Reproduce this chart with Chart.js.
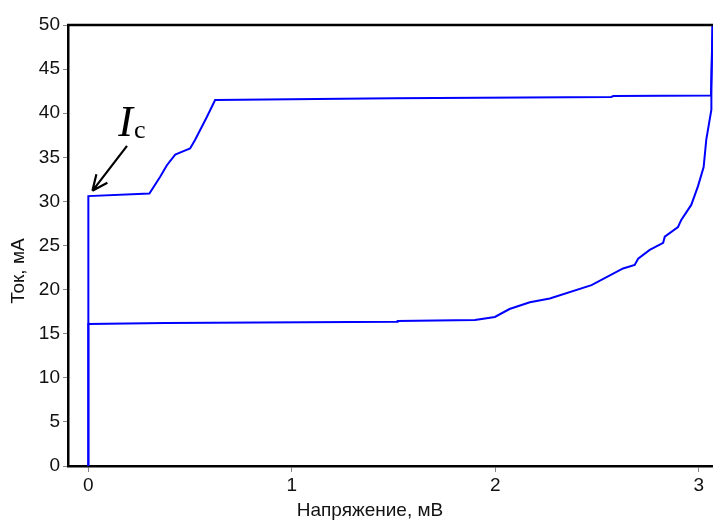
<!DOCTYPE html>
<html>
<head>
<meta charset="utf-8">
<script src="https://cdn.jsdelivr.net/npm/chart.js@4.4.0/dist/chart.umd.min.js"></script>
<style>
  html, body { margin: 0; padding: 0; background: #fff; }
  #wrap { width: 713px; height: 521px; }
</style>
</head>
<body>
<div id="wrap"><canvas id="ivc"></canvas></div>
<script>
// ВАХ: прямой ход (до переключения) и обратный ход
const upVoltage = [0, 0, 0.30, 0.353, 0.386, 0.427, 0.468, 0.50, 0.525, 0.583, 0.623, 1.50, 2.57, 2.58, 3.060, 3.068];
const upCurrent = [0, 30.6, 30.9, 32.8, 34.1, 35.3, 35.7, 36.0, 37.0, 39.6, 41.5, 41.7, 41.85, 41.95, 42.0, 50];

const downVoltage = [3.068, 3.062, 3.062, 3.037, 3.024, 2.996, 2.963, 2.914, 2.898, 2.833, 2.825, 2.759, 2.702, 2.685, 2.628, 2.473, 2.268, 2.170, 2.07, 1.998, 1.90, 1.52, 1.52, 0.38, 0, 0];
const downCurrent = [50, 43.0, 40.4, 37.0, 33.9, 31.7, 29.6, 27.9, 27.1, 26.0, 25.3, 24.5, 23.5, 22.8, 22.4, 20.5, 19.0, 18.56, 17.8, 16.9, 16.55, 16.45, 16.35, 16.2, 16.1, 0];

const xTicks = [0, 1, 2, 3];
const yTicks = [0, 5, 10, 15, 20, 25, 30, 35, 40, 45, 50];

const xTitle = "Напряжение, мВ";
const yTitle = "Ток, мА";

// подпись Ic со стрелкой (в координатах данных)
const icArrowFrom = [0.19, 36.3];
const icArrowTo = [0.02, 31.2];
const icLabelAt = [0.147, 37.4];

function toPoints(xs, ys) {
  let pts = [];
  for (let i = 0; i < xs.length; i++) pts.push({x: xs[i], y: ys[i]});
  return pts;
}

const framePlugin = {
  id: "frame",
  afterDraw(chart) {
    const ctx = chart.ctx;
    const a = chart.chartArea;
    const sx = chart.scales.x, sy = chart.scales.y;
    ctx.save();
    // верхняя рамка
    ctx.strokeStyle = "#000";
    ctx.lineWidth = 2.5;
    ctx.beginPath();
    ctx.moveTo(a.left - 1, a.top);
    ctx.lineTo(a.right, a.top);
    ctx.stroke();

    // стрелка к Ic
    const x1 = sx.getPixelForValue(icArrowFrom[0]), y1 = sy.getPixelForValue(icArrowFrom[1]);
    const x2 = sx.getPixelForValue(icArrowTo[0]), y2 = sy.getPixelForValue(icArrowTo[1]);
    const ang = Math.atan2(y2 - y1, x2 - x1);
    ctx.lineWidth = 2.2;
    ctx.beginPath();
    ctx.moveTo(x1, y1);
    ctx.lineTo(x2, y2);
    ctx.moveTo(x2, y2);
    ctx.lineTo(x2 - 17 * Math.cos(ang - 0.42), y2 - 17 * Math.sin(ang - 0.42));
    ctx.moveTo(x2, y2);
    ctx.lineTo(x2 - 17 * Math.cos(ang + 0.42), y2 - 17 * Math.sin(ang + 0.42));
    ctx.stroke();

    // подпись Ic
    const lx = sx.getPixelForValue(icLabelAt[0]), ly = sy.getPixelForValue(icLabelAt[1]);
    ctx.fillStyle = "#000";
    ctx.textBaseline = "alphabetic";
    ctx.textAlign = "left";
    ctx.font = "italic 44px 'Liberation Serif'";
    ctx.fillText("I", lx, ly);
    const w = ctx.measureText("I").width;
    ctx.font = "26px 'Liberation Serif'";
    ctx.fillText("c", lx + w + 1, ly + 2);

    // подписи осей
    ctx.font = "19px 'Liberation Sans'";
    ctx.textAlign = "center";
    ctx.textBaseline = "middle";
    ctx.fillStyle = "#111";
    ctx.fillText(xTitle, 370, 511);
    ctx.translate(19, 271);
    ctx.rotate(-Math.PI / 2);
    ctx.fillText(yTitle, 0, 0);
    ctx.restore();
  }
};

const ctx = document.getElementById("ivc").getContext("2d");
const chart = new Chart(ctx, {
  type: "scatter",
  data: {
    datasets: [
      {
        label: "прямой ход",
        data: toPoints(upVoltage, upCurrent),
        showLine: true,
        borderColor: "#0000ff",
        borderWidth: 2,
        pointRadius: 0,
        tension: 0
      },
      {
        label: "обратный ход",
        data: toPoints(downVoltage, downCurrent),
        showLine: true,
        borderColor: "#0000ff",
        borderWidth: 2,
        pointRadius: 0,
        tension: 0
      }
    ]
  },
  options: {
    responsive: true,
    maintainAspectRatio: false,
    animation: false,
    layout: { padding: { top: 25, right: 0, left: 0, bottom: 0 } },
    plugins: {
      legend: { display: false },
      tooltip: { enabled: false }
    },
    scales: {
      x: {
        type: "linear",
        min: -0.1,
        max: 3.07,
        afterBuildTicks: s => { s.ticks = xTicks.map(v => ({value: v})); },
        afterFit: s => { s.height = 55; },
        border: { color: "#000", width: 2.5 },
        grid: { drawOnChartArea: false, tickLength: 6, tickColor: "#888", tickWidth: 1 },
        ticks: {
          color: "#111",
          padding: 2,
          font: { family: "'Liberation Sans'", size: 19 }
        },
        title: { display: false }
      },
      y: {
        type: "linear",
        min: 0,
        max: 50,
        afterBuildTicks: s => { s.ticks = yTicks.map(v => ({value: v})); },
        afterFit: s => { s.width = 68; },
        border: { color: "#000", width: 2.5 },
        grid: { drawOnChartArea: false, tickLength: 5, tickColor: "#888", tickWidth: 1 },
        ticks: {
          color: "#111",
          padding: 3,
          font: { family: "'Liberation Sans'", size: 19 }
        },
        title: { display: false }
      }
    }
  },
  plugins: [framePlugin]
});
</script>
</body>
</html>
